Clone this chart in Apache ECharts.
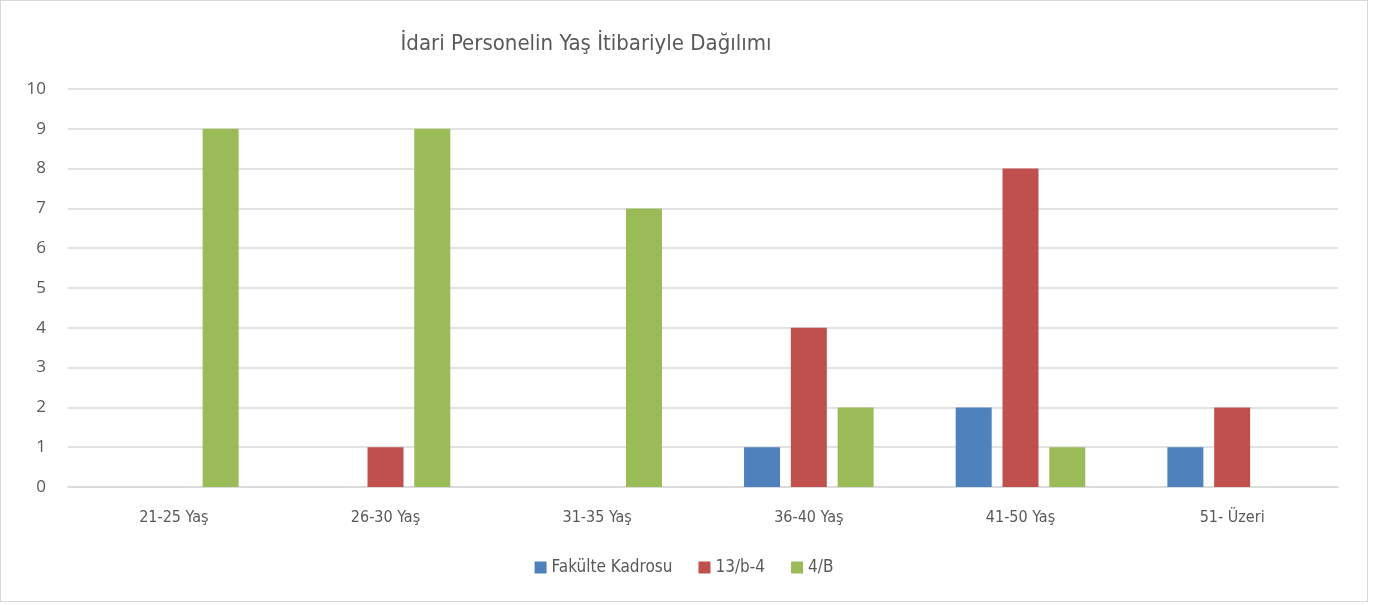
<!DOCTYPE html>
<html>
<head>
<meta charset="utf-8">
<script src="https://cdn.jsdelivr.net/npm/echarts@6/dist/echarts.min.js"></script>
<style>
  body { margin: 0; background: #fff; }
  .box { position: absolute; left: 0; top: 0; width: 1366px; height: 600px; border: 1px solid #d9d9d9; }
  .chart { width: 100%; height: 100%; }
</style>
</head>
<body>
<div class="box"><div class="chart"></div></div>
<script>
// 年龄段
const categories = ['21-25 Yaş', '26-30 Yaş', '31-35 Yaş', '36-40 Yaş', '41-50 Yaş', '51- Üzeri'];
// 三组数据
const fakulteData = [0, 0, 0, 1, 2, 1];
const b4Data = [0, 1, 0, 4, 8, 2];
const bData = [9, 9, 7, 2, 1, 0];
const yTicks = [0, 10, 1];  // min, max, interval

(function () {
  let myChart = echarts.init(document.querySelector('.chart'))
  let condensed = '"DejaVu Sans Condensed", "DejaVu Sans", sans-serif'
  let option = {
    color: ['#4f81bd', '#c0504d', '#9bbb59'],
    title: {
      text: 'İdari Personelin Yaş İtibariyle Dağılımı',
      left: 580,
      top: 27,
      textAlign: 'center',
      textStyle: {
        color: '#595959',
        fontFamily: condensed,
        fontWeight: 'normal',
        fontSize: 22
      }
    },
    legend: {
      bottom: 20,
      left: 'center',
      itemWidth: 12,
      itemHeight: 12,
      itemGap: 26,
      icon: 'rect',
      textStyle: {
        color: '#595959',
        fontFamily: condensed,
        fontSize: 17
      }
    },
    grid: {
      left: 67,
      right: 29,
      top: 88,
      bottom: 114
    },
    xAxis: {
      type: 'category',
      data: categories,
      axisTick: { show: false },
      axisLine: { lineStyle: { color: '#d9d9d9', width: 1.5 } },
      axisLabel: {
        color: '#595959',
        fontFamily: condensed,
        fontSize: 16,
        margin: 23
      }
    },
    yAxis: {
      type: 'value',
      min: yTicks[0],
      max: yTicks[1],
      interval: yTicks[2],
      axisLine: { show: false },
      axisTick: { show: false },
      axisLabel: {
        color: '#595959',
        fontFamily: '"Open Sans", sans-serif',
        fontSize: 17,
        margin: 22
      },
      splitLine: { lineStyle: { color: '#d9d9d9', width: 1.5 } }
    },
    series: [
      {
        name: 'Fakülte Kadrosu',
        type: 'bar',
        barWidth: 36,
        barGap: '30%',
        data: fakulteData
      },
      {
        name: '13/b-4',
        type: 'bar',
        barWidth: 36,
        barGap: '30%',
        data: b4Data
      },
      {
        name: '4/B',
        type: 'bar',
        barWidth: 36,
        barGap: '30%',
        data: bData
      }
    ]
  }
  myChart.setOption(option)
})();
</script>
</body>
</html>
